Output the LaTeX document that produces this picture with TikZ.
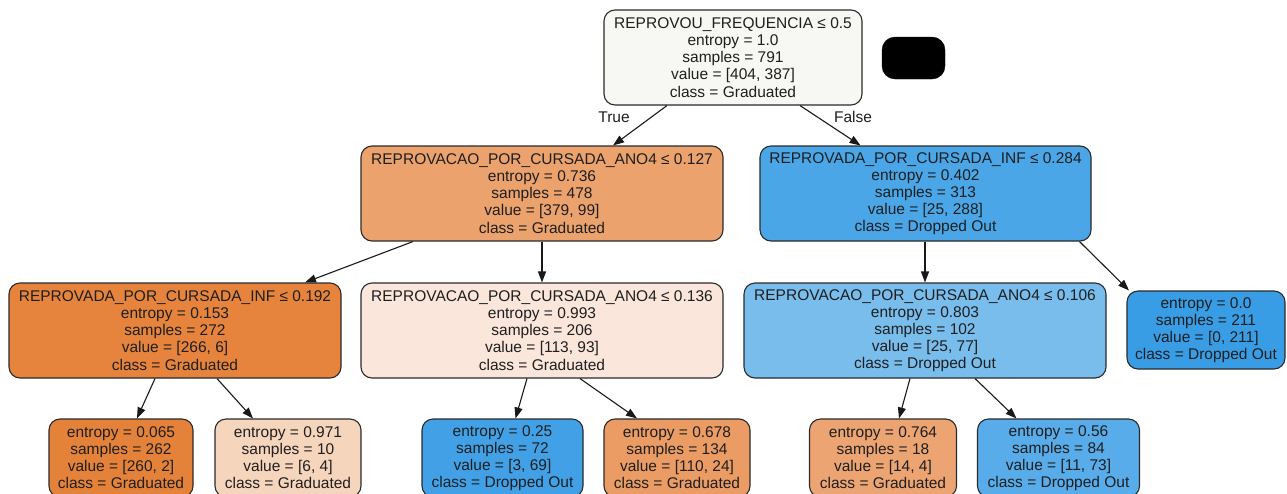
\documentclass[tikz,border=0pt]{standalone}
\usepackage{fontspec}
\setmainfont{Liberation Sans}
\usetikzlibrary{arrows.meta}
\definecolor{c0}{HTML}{F7F8F3}
\definecolor{cL}{HTML}{ECA26D}
\definecolor{cR}{HTML}{4AA6E7}
\definecolor{cA}{HTML}{E6843E}
\definecolor{cB}{HTML}{FAE6DA}
\definecolor{cC}{HTML}{79BDED}
\definecolor{cD}{HTML}{399DE5}
\definecolor{c1}{HTML}{E5823A}
\definecolor{c2}{HTML}{F6D5BD}
\definecolor{c3}{HTML}{42A1E6}
\definecolor{c4}{HTML}{EB9C64}
\definecolor{c5}{HTML}{ECA572}
\definecolor{c6}{HTML}{57ACE9}
\definecolor{bord}{HTML}{2A2A2A}
\tikzset{
  tbox/.style={draw=bord, line width=1.1pt, rounded corners=11pt, align=center, inner sep=0pt,
    font=\fontsize{15.5}{17.1}\selectfont, text=black!88},
  edge/.style={line width=1.1pt, draw=black!90, -{Triangle[length=11pt,width=8pt]}},
  elab/.style={font=\fontsize{15.5}{17.1}\selectfont, text=black!88, inner sep=0pt}
}
\begin{document}
\begin{tikzpicture}[x=1pt,y=-1pt]
\useasboundingbox (0,0) rectangle (1287,493);
\fill[white] (0,0) rectangle (1287,493);

\node[tbox, fill=c0, minimum width=258pt, minimum height=95pt] (root) at (733,57.5)
  {REPROVOU\_FREQUENCIA ≤ 0.5\\entropy = 1.0\\samples = 791\\value = [404, 387]\\class = Graduated};
\node[draw=black, fill=black, rounded corners=13pt, minimum width=63pt, minimum height=42pt, inner sep=0pt] (blk) at (913.5,58) {};

\node[tbox, fill=cL, minimum width=362pt, minimum height=95pt] (L) at (542,193.5)
  {REPROVACAO\_POR\_CURSADA\_ANO4 ≤ 0.127\\entropy = 0.736\\samples = 478\\value = [379, 99]\\class = Graduated};
\node[tbox, fill=cR, minimum width=331pt, minimum height=95pt] (R) at (925.5,193.5)
  {REPROVADA\_POR\_CURSADA\_INF ≤ 0.284\\entropy = 0.402\\samples = 313\\value = [25, 288]\\class = Dropped Out};

\node[tbox, fill=cA, minimum width=332pt, minimum height=95pt] (A) at (175,330.5)
  {REPROVADA\_POR\_CURSADA\_INF ≤ 0.192\\entropy = 0.153\\samples = 272\\value = [266, 6]\\class = Graduated};
\node[tbox, fill=cB, minimum width=362pt, minimum height=95pt] (B) at (542,330.5)
  {REPROVACAO\_POR\_CURSADA\_ANO4 ≤ 0.136\\entropy = 0.993\\samples = 206\\value = [113, 93]\\class = Graduated};
\node[tbox, fill=cC, minimum width=362pt, minimum height=95pt] (C) at (925,330.5)
  {REPROVACAO\_POR\_CURSADA\_ANO4 ≤ 0.106\\entropy = 0.803\\samples = 102\\value = [25, 77]\\class = Dropped Out};
\node[tbox, fill=cD, minimum width=158pt, minimum height=78pt] (D) at (1206,330)
  {entropy = 0.0\\samples = 211\\value = [0, 211]\\class = Dropped Out};

\node[tbox, fill=c1, minimum width=144pt, minimum height=78pt] (l1) at (121,458)
  {entropy = 0.065\\samples = 262\\value = [260, 2]\\class = Graduated};
\node[tbox, fill=c2, minimum width=146pt, minimum height=78pt] (l2) at (288,458)
  {entropy = 0.971\\samples = 10\\value = [6, 4]\\class = Graduated};
\node[tbox, fill=c3, minimum width=161pt, minimum height=78pt] (l3) at (502.5,458)
  {entropy = 0.25\\samples = 72\\value = [3, 69]\\class = Dropped Out};
\node[tbox, fill=c4, minimum width=146pt, minimum height=78pt] (l4) at (677,458)
  {entropy = 0.678\\samples = 134\\value = [110, 24]\\class = Graduated};
\node[tbox, fill=c5, minimum width=147pt, minimum height=78pt] (l5) at (883,458)
  {entropy = 0.764\\samples = 18\\value = [14, 4]\\class = Graduated};
\node[tbox, fill=c6, minimum width=162pt, minimum height=78pt] (l6) at (1058.5,458)
  {entropy = 0.56\\samples = 84\\value = [11, 73]\\class = Dropped Out};

\draw[edge] ([xshift=-66pt]root.south) -- ([xshift=71pt]L.north);
\draw[edge] ([xshift=67pt]root.south) -- ([xshift=-65pt]R.north);
\node[elab] (tl) at (614,117) {True};
\node[elab] (fl) at (853,117) {False};

\draw[edge] ([xshift=-129pt]L.south) -- ([xshift=130pt]A.north);
\draw[edge] (L.south) -- (B.north);
\draw[edge] (R.south -| C.north) -- (C.north);
\draw[edge] ([xshift=154pt]R.south) -- ([xshift=-77pt]D.north);

\draw[edge] ([xshift=-20pt]A.south) -- ([xshift=16pt]l1.north);
\draw[edge] ([xshift=42pt]A.south) -- ([xshift=-35pt]l2.north);
\draw[edge] ([xshift=-15pt]B.south) -- ([xshift=13pt]l3.north);
\draw[edge] ([xshift=38pt]B.south) -- ([xshift=-40pt]l4.north);
\draw[edge] ([xshift=-15pt]C.south) -- ([xshift=16pt]l5.north);
\draw[edge] ([xshift=50pt]C.south) -- ([xshift=-42pt]l6.north);
\end{tikzpicture}
\end{document}
